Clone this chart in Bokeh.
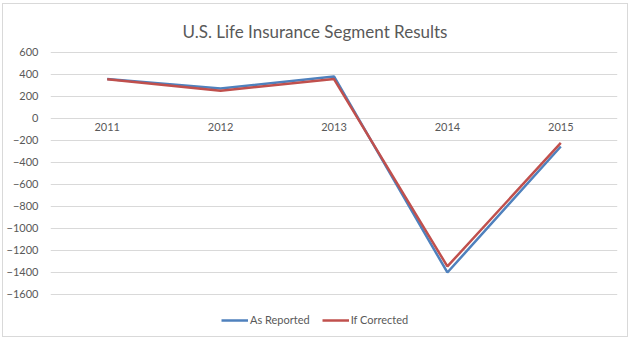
from bokeh.plotting import figure
from bokeh.models import FactorRange, Range1d, FixedTicker, Legend, LegendItem, ColumnDataSource
from bokeh.core.properties import value
from bokeh.embed import file_html
from bokeh.resources import INLINE

title = "U.S. Life Insurance Segment Results"
years = ["2011", "2012", "2013", "2014", "2015"]
as_reported = [358, 272, 382, -1400, -255]
if_corrected = [356, 252, 358, -1345, -222]
y_ticks = [600, 400, 200, 0, -200, -400, -600, -800, -1000, -1200, -1400, -1600]

FONT = "Lato"
TXT = "#595959"

p = figure(width=626, height=334, output_backend="svg", toolbar_location=None,
           x_range=FactorRange(*years, range_padding=0),
           y_range=Range1d(-2000, 1036),
           min_border_left=46, min_border_right=12, min_border_bottom=0, min_border_top=0,
           styles={"border": "1px solid #D9D9D9", "margin-left": "2px", "margin-top": "3px"})

p.outline_line_color = None
p.xaxis.visible = False
p.xgrid.visible = False
p.yaxis.ticker = FixedTicker(ticks=y_ticks)
p.yaxis.axis_line_color = None
p.yaxis.major_tick_line_color = None
p.yaxis.minor_tick_line_color = None
p.yaxis.major_label_text_font = FONT
p.yaxis.major_label_text_font_size = "11px"
p.yaxis.major_label_text_color = TXT
p.yaxis.major_label_standoff = 6
p.ygrid.grid_line_color = "#D9D9D9"
p.ygrid.grid_line_width = 1

src = ColumnDataSource(dict(years=years, ar=as_reported, ic=if_corrected, zero=[0] * len(years)))

# chart title, drawn at the top of the frame
p.text(x=[years[len(years) // 2]], y=[p.y_range.end], text=[title], text_align="center",
       text_baseline="alphabetic", x_offset=-19, y_offset=27,
       text_font=value(FONT), text_font_size="17px", text_color=TXT)

p.text(x="years", y="zero", text="years", source=src, text_align="center", text_baseline="top",
       y_offset=5, text_font=value(FONT), text_font_size="11px", text_color=TXT)

r1 = p.line(x="years", y="ar", source=src, line_color="#4F81BD", line_width=2.5)
r2 = p.line(x="years", y="ic", source=src, line_color="#C0504D", line_width=2.5)

legend = Legend(items=[LegendItem(label="As Reported", renderers=[r1]),
                       LegendItem(label="If Corrected", renderers=[r2])],
                location=(171, 12), orientation="horizontal",
                border_line_color=None, background_fill_alpha=0,
                label_text_font=FONT, label_text_font_size="11px", label_text_color=TXT,
                glyph_width=27, glyph_height=10, spacing=12, label_standoff=2, margin=0, padding=2)
p.add_layout(legend, "center")

open("out.html", "w").write(file_html(p, INLINE))
